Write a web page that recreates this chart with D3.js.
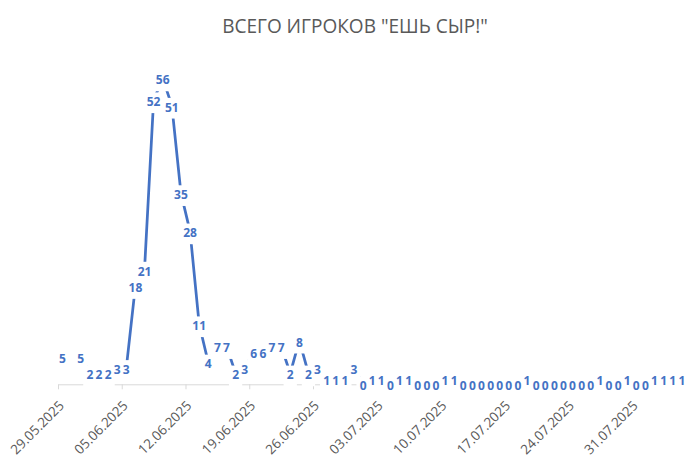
<!DOCTYPE html>
<html><head><meta charset="utf-8">
<script src="https://cdn.jsdelivr.net/npm/d3@7"></script>
<style>html,body{margin:0;padding:0;background:#fff}</style>
</head><body>
<svg id="c" width="700" height="463"></svg>
<script>
const title = 'ВСЕГО ИГРОКОВ "ЕШЬ СЫР!"';
const startDate = "29.05.2025";
// one value per day starting at startDate (null = no data)
const values = [5, null, 5, 2, 2, 2, 3, 3, 18, 21, 52, 56, 51, 35, 28, 11, 4, 7, 7, 2,
  3, 6, 6, 7, 7, 2, 8, 2, 3, 1, 1, 1, 3, 0, 1, 1, 0, 1, 1, 0,
  0, 0, 1, 1, 0, 0, 0, 0, 0, 0, 0, 1, 0, 0, 0, 0, 0, 0, 0, 1,
  0, 0, 1, 0, 0, 1, 1, 1, 1];
const tickLabels = ["29.05.2025","05.06.2025","12.06.2025","19.06.2025","26.06.2025",
  "03.07.2025","10.07.2025","17.07.2025","24.07.2025","31.07.2025"];

const parse = d3.utcParse("%d.%m.%Y");
const DAY = 864e5;
const t0 = parse(startDate);
const categories = values.map((v, i) => new Date(+t0 + i * DAY));
const data = values.map((v, i) => ({ d: categories[i], v }));

const svg = d3.select("#c");
const blue = "#4472C4";

const x = d3.scaleUtc()
  .domain([t0, new Date(+t0 + values.length * DAY)])
  .range([58, 58 + values.length * 9.107]);
const y = d3.scaleLinear().domain([0, 60]).range([384.3, 56.5]);
const px = d => x(new Date(+d + DAY / 2));

// title
const tt = svg.append("text").attr("x", 355).attr("y", 33)
  .attr("text-anchor", "middle").attr("fill", "#595959")
  .style("font-family", "'Open Sans'").style("font-size", "20px").text(title);
const tw = tt.node().getComputedTextLength();
tt.style("font-size", (20 * 266 / tw).toFixed(2) + "px");

// x axis
const tickDates = tickLabels.map(parse);
const ax = svg.append("g").attr("transform", "translate(0,384.3)")
  .call(d3.axisBottom(x).tickValues(tickDates).tickSize(5).tickSizeOuter(0).tickFormat(() => ""));
ax.select(".domain").attr("stroke", "#d9d9d9");
ax.selectAll(".tick line").attr("stroke", "#d9d9d9");
ax.selectAll(".tick text").remove();

// line
const line = d3.line().defined(d => d.v != null).x(d => px(d.d)).y(d => y(d.v));
svg.append("path").datum(data).attr("d", line)
  .attr("fill", "none").attr("stroke", blue).attr("stroke-width", 2.75)
  .attr("stroke-linejoin", "round").attr("stroke-linecap", "round");

// labels
const fs = 12, digitH = 0.714 * fs;
const pts = data.filter(d => d.v != null);
const lg = svg.append("g");
const rects = lg.append("g"), texts = lg.append("g");
texts.selectAll("text").data(pts).join("text")
  .attr("x", d => px(d.d)).attr("y", d => y(d.v) + 1.7 + digitH / 2)
  .attr("text-anchor", "middle").attr("fill", blue)
  .style("font-family", "'Open Sans'").style("font-weight", "700").style("font-size", fs + "px")
  .text(d => d.v)
  .each(function (d) { d.w = this.getComputedTextLength(); });
rects.selectAll("rect").data(pts).join("rect")
  .attr("x", d => px(d.d) - d.w / 2 - 3.2).attr("width", d => d.w + 6.4)
  .attr("y", d => y(d.v) + 1.7 - digitH / 2 - 5.2).attr("height", digitH + 12.1)
  .attr("fill", "#fff");

// tick labels (on top)
svg.append("g").selectAll("text").data(tickDates).join("text")
  .attr("transform", d => `translate(${x(d) + 7},${406.5}) rotate(-45)`)
  .attr("text-anchor", "end").attr("fill", "#595959")
  .style("font-family", "'Open Sans'").style("font-size", "13.5px")
  .text((d, i) => tickLabels[i]);
</script>
</body></html>
